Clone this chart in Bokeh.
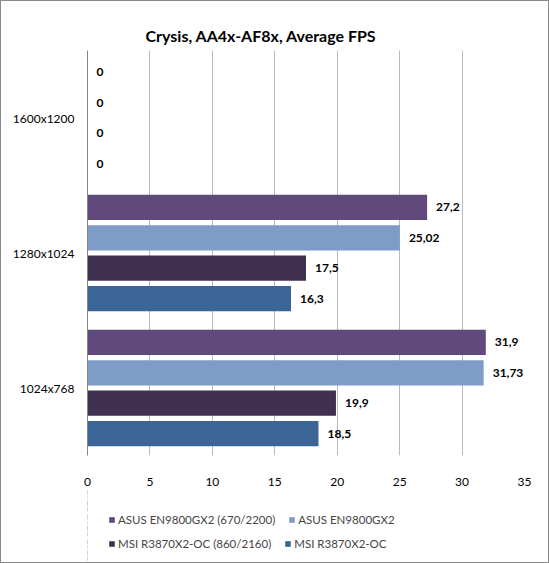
from bokeh.plotting import figure
from bokeh.layouts import column
from bokeh.models import FactorRange, Range1d, ColumnDataSource, FixedTicker, Legend, LegendItem
from bokeh.transform import dodge
from bokeh.embed import file_html
from bokeh.resources import INLINE
from bokeh.core.properties import value

resolutions = ["1600x1200", "1280x1024", "1024x768"]
series_names = ["ASUS EN9800GX2 (670/2200)", "ASUS EN9800GX2",
                "MSI R3870X2-OC (860/2160)", "MSI R3870X2-OC"]
asus_oc = [0, 27.2, 31.9]
asus = [0, 25.02, 31.73]
msi_oc = [0, 17.5, 19.9]
msi = [0, 16.3, 18.5]
colors = ["#604A7B", "#7F9CC9", "#403152", "#3B6596"]
x_ticks = [0, 5, 10, 15, 20, 25, 30, 35]

FONT = "Lato"

def fmt(v):
    return ("%g" % v).replace(".", ",")

fig = figure(width=547, height=487, output_backend="svg", toolbar_location=None,
             y_range=FactorRange(factors=list(reversed(resolutions)), range_padding=0),
             x_range=Range1d(0, 35),
             min_border_left=86, min_border_right=24, min_border_top=49, min_border_bottom=25)
fig.outline_line_color = None

fig.title.text = "Crysis, AA4x-AF8x, Average FPS"
fig.title.align = "left"
fig.title.offset = 58
fig.title.vertical_align = "middle"
fig.title.text_font = FONT
fig.title.text_font_size = "16px"
fig.title.text_font_style = "bold"
fig.title.text_color = "#000000"

offsets = [0.3375, 0.1125, -0.1125, -0.3375]
all_vals = [asus_oc, asus, msi_oc, msi]
sources = []
for name, vals, col, off in zip(series_names, all_vals, colors, offsets):
    src = ColumnDataSource(dict(res=resolutions, v=vals, lab=[fmt(v) for v in vals]))
    sources.append(src)
    fig.hbar(y=dodge("res", off, range=fig.y_range), right="v", left=0, height=0.187,
             source=src, fill_color=col, line_color=None)
    fig.text(x="v", y=dodge("res", off, range=fig.y_range), text="lab", source=src,
             x_offset=9, text_baseline="middle", text_font=value(FONT),
             text_font_size="12px", text_font_style="bold", text_color="#000000")

fig.xaxis.ticker = FixedTicker(ticks=x_ticks)
fig.xaxis.axis_line_color = None
fig.xaxis.major_tick_line_color = None
fig.xaxis.minor_tick_line_color = None
fig.xaxis.major_label_text_font = FONT
fig.xaxis.major_label_text_font_size = "12px"
fig.xaxis.major_label_standoff = 16
fig.xaxis.major_label_text_color = "#000000"

fig.yaxis.axis_line_color = "#868686"
fig.yaxis.major_tick_line_color = None
fig.yaxis.minor_tick_line_color = None
fig.yaxis.major_label_text_font = FONT
fig.yaxis.major_label_text_font_size = "12px"
fig.yaxis.major_label_standoff = 7
fig.yaxis.major_label_text_color = "#000000"

fig.xgrid.grid_line_color = "#BABABA"
fig.ygrid.grid_line_color = None

# legend strip
lf = figure(width=547, height=74, output_backend="svg", toolbar_location=None,
            x_range=Range1d(1000, 1100), y_range=FactorRange(factors=list(reversed(resolutions))),
            x_axis_type=None, y_axis_type=None,
            min_border_left=0, min_border_right=0, min_border_top=0, min_border_bottom=0)
lf.outline_line_color = None
lf.background_fill_color = None
lf.border_fill_color = None
lf.xgrid.visible = False
lf.ygrid.visible = False
items = []
for name, src, col, off in zip(series_names, sources, colors, offsets):
    r = lf.hbar(y=dodge("res", off, range=lf.y_range), right="v", left=0, height=0.187,
                source=src, fill_color=col, line_color=None)
    items.append(LegendItem(label=name, renderers=[r]))

for row_items, y in ((items[:2], 36), (items[2:], 12)):
    leg = Legend(items=row_items, orientation="horizontal", location=(21, y),
                 label_text_font=FONT, label_text_font_size="11.5px",
                 glyph_width=7, glyph_height=7, label_standoff=3,
                 spacing=13, padding=0, margin=0, border_line_color=None,
                 background_fill_alpha=0, label_height=14)
    lf.add_layout(leg)

p = column(fig, lf, spacing=0, styles={"border": "1px solid #898989", "background": "white"})

open("out.html", "w").write(file_html(p, INLINE))
